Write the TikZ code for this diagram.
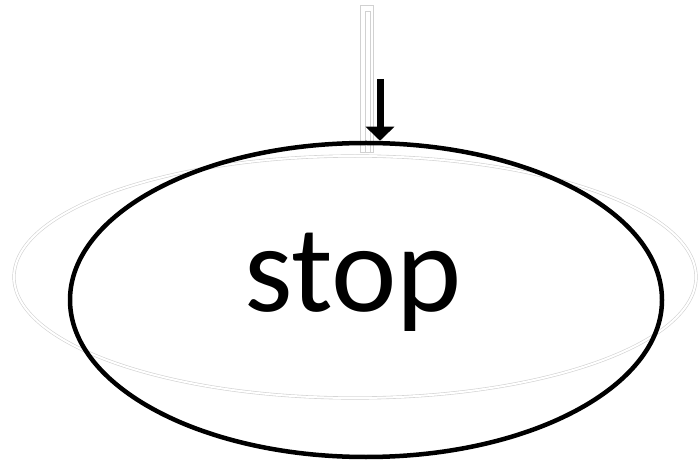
\documentclass[tikz,border=0pt]{standalone}
\usepackage{fontspec}
\setmainfont{Carlito}
\usetikzlibrary{shapes.geometric,arrows.meta}
\tikzset{
  ghost/.style={draw=black!18,line width=0.6pt},
  stopstate/.style={ellipse,draw,line width=4.5pt,minimum width=592pt,minimum height=314pt,inner sep=0pt,
    text height=84pt,text depth=60pt,font=\fontsize{124}{124}\selectfont}
}
\begin{document}
\begin{tikzpicture}[x=1pt,y=-1pt]
  \useasboundingbox (0,0) rectangle (699,462);
  % faint ghost outline behind
  \draw [ghost,double=white,double distance=2pt] (355,277) ellipse [x radius=341,y radius=121];
  \draw [ghost,fill=white] (360,5) rectangle (373,152);
  \draw [ghost] (365,11) rectangle (370,152);
  % state
  \node [stopstate] (stopnode) at (366,300) {stop\hspace*{26pt}};
  \coordinate (arrowtop) at (380,79);
  \draw [line width=7pt,-{Triangle[width=28pt,length=14pt]}] (arrowtop) -- (arrowtop |- stopnode.north);
\end{tikzpicture}
\end{document}
